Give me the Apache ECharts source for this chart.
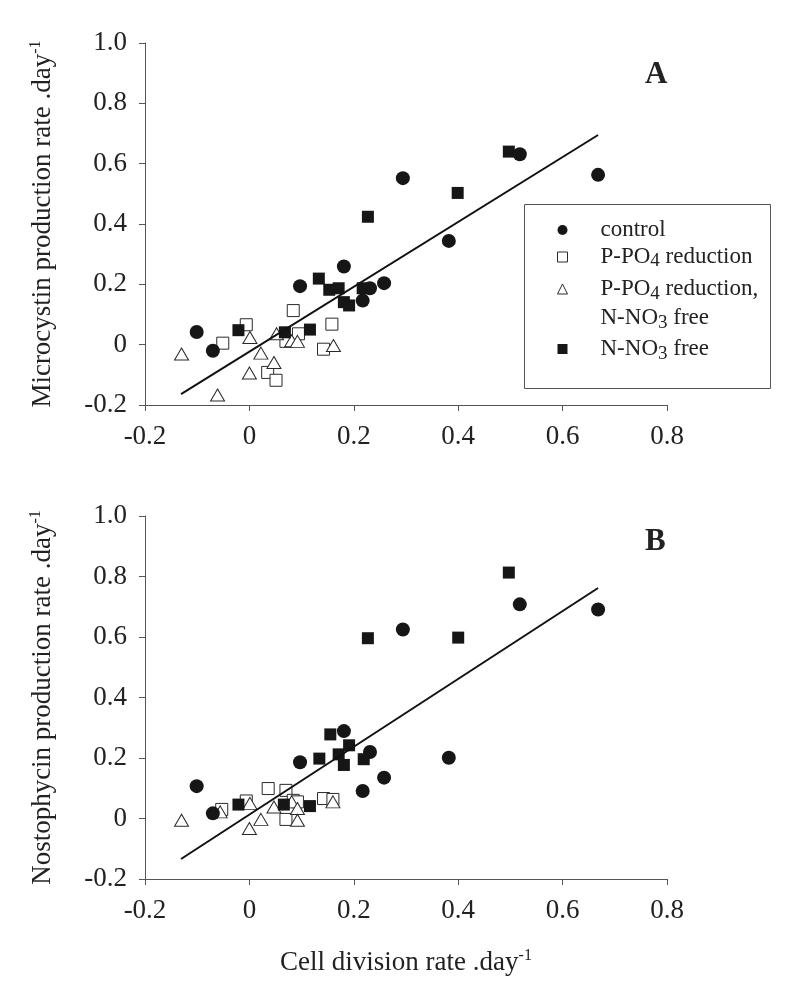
<!DOCTYPE html>
<html>
<head>
<meta charset="utf-8">
<script src="https://cdn.jsdelivr.net/npm/echarts@6/dist/echarts.min.js"></script>
<style>html,body{margin:0;padding:0;background:#fff}#c{width:800px;height:995px}</style>
</head>
<body>
<div id="c"></div>
<script>
// ---------- data ----------
const seriesNames = ['control', 'P-PO4 reduction', 'P-PO4 reduction, N-NO3 free', 'N-NO3 free'];
const xTickLabels = ['-0.2', '0', '0.2', '0.4', '0.6', '0.8'];
const yTickLabels = ['-0.2', '0', '0.2', '0.4', '0.6', '0.8', '1.0'];

// Panel A: microcystin production rate vs cell division rate
const controlA = [[-0.101,0.042],[-0.070,-0.020],[0.097,0.194],[0.181,0.259],[0.217,0.146],[0.231,0.187],[0.258,0.204],[0.294,0.552],[0.382,0.344],[0.518,0.631],[0.668,0.563]];
const pRedA = [[-0.051,0.005],[-0.006,0.066],[0.035,-0.092],[0.051,-0.118],[0.070,0.011],[0.084,0.113],[0.094,0.036],[0.142,-0.015],[0.158,0.068]];
const pRedNFreeA = [[-0.130,-0.031],[-0.061,-0.167],[0.000,-0.094],[0.001,0.024],[0.022,-0.028],[0.047,-0.059],[0.052,0.036],[0.081,0.013],[0.092,0.011],[0.161,-0.003]];
const nFreeA = [[-0.021,0.048],[0.068,0.041],[0.116,0.050],[0.133,0.219],[0.153,0.182],[0.171,0.187],[0.181,0.141],[0.191,0.130],[0.217,0.187],[0.227,0.424],[0.399,0.503],[0.497,0.640]];
const fitA = [[-0.131,-0.164],[0.668,0.695]];

// Panel B: nostophycin production rate vs cell division rate
const controlB = [[-0.101,0.107],[-0.070,0.017],[0.097,0.186],[0.181,0.289],[0.217,0.091],[0.231,0.220],[0.258,0.135],[0.294,0.625],[0.382,0.201],[0.518,0.708],[0.668,0.691]];
const pRedB = [[-0.053,0.030],[-0.006,0.058],[0.036,0.099],[0.070,0.093],[0.070,-0.003],[0.084,0.060],[0.092,0.055],[0.142,0.066],[0.160,0.063]];
const pRedNFreeB = [[-0.130,-0.006],[-0.056,0.022],[0.000,-0.033],[0.001,0.050],[0.022,-0.003],[0.047,0.038],[0.081,0.055],[0.092,0.033],[0.092,-0.006],[0.160,0.055]];
const nFreeB = [[-0.021,0.046],[0.066,0.046],[0.116,0.041],[0.134,0.198],[0.155,0.278],[0.171,0.212],[0.181,0.177],[0.191,0.242],[0.219,0.196],[0.227,0.596],[0.400,0.598],[0.497,0.813]];
const fitB = [[-0.131,-0.134],[0.668,0.762]];

// ---------- styling ----------
const FONT = '"Liberation Serif", "Times New Roman", serif';
const INK = '#222';
const AXIS = '#555';

function tickFmt(labels, min) {
  return function (v) {
    const i = Math.round((v - min) / 0.2);
    return labels[i] !== undefined ? labels[i] : '';
  };
}

const supRich = {
  sup: { fontFamily: FONT, fontSize: 16, lineHeight: 16, verticalAlign: 'top', color: INK }
};

function xAxis(gridIndex, name) {
  return {
    type: 'value', gridIndex: gridIndex, min: -0.2, max: 0.8, interval: 0.2,
    axisLine: { onZero: false, lineStyle: { color: AXIS, width: 1 } },
    axisTick: { show: true, inside: false, length: 6, lineStyle: { color: AXIS } },
    axisLabel: { margin: 18, color: INK, fontFamily: FONT, fontSize: 27, formatter: tickFmt(xTickLabels, -0.2) },
    splitLine: { show: false },
    name: name, nameLocation: 'middle', nameGap: 69,
    nameTextStyle: { fontFamily: FONT, fontSize: 27, lineHeight: 30, color: INK, rich: supRich }
  };
}
function yAxis(gridIndex, name) {
  return {
    type: 'value', gridIndex: gridIndex, min: -0.2, max: 1.0, interval: 0.2,
    axisLine: { onZero: false, lineStyle: { color: AXIS, width: 1 } },
    axisTick: { show: true, inside: false, length: 6, lineStyle: { color: AXIS } },
    axisLabel: { margin: 18, color: INK, fontFamily: FONT, fontSize: 27, formatter: tickFmt(yTickLabels, -0.2) },
    splitLine: { show: false },
    name: name, nameLocation: 'middle', nameGap: 87, nameRotate: 90,
    nameTextStyle: { fontFamily: FONT, fontSize: 27, lineHeight: 30, color: INK, rich: supRich }
  };
}

const styles = [
  { symbol: 'circle', symbolSize: 14, itemStyle: { color: '#161616', opacity: 1 } },
  { symbol: 'rect', symbolSize: 12, itemStyle: { color: '#fff', borderColor: '#2a2a2a', borderWidth: 1, opacity: 1 } },
  { symbol: 'triangle', symbolSize: [14, 12], itemStyle: { color: '#fff', borderColor: '#2a2a2a', borderWidth: 1, opacity: 1 } },
  { symbol: 'rect', symbolSize: 12, itemStyle: { color: '#161616', opacity: 1 } }
];

function scatter(nameIdx, data, axisIdx, z) {
  const s = styles[nameIdx];
  return {
    type: 'scatter', name: seriesNames[nameIdx], data: data,
    xAxisIndex: axisIdx, yAxisIndex: axisIdx,
    symbol: s.symbol, symbolSize: s.symbolSize, itemStyle: s.itemStyle,
    emphasis: { disabled: true }, z: z
  };
}
function fitLine(data, axisIdx) {
  return {
    type: 'line', name: 'fit', data: data, xAxisIndex: axisIdx, yAxisIndex: axisIdx,
    showSymbol: false, symbol: 'none', silent: true,
    lineStyle: { color: '#111', width: 2 }, z: 6, emphasis: { disabled: true }
  };
}

const legendText = {
  'control': 'control',
  'P-PO4 reduction': 'P-PO{sub|4} reduction',
  'P-PO4 reduction, N-NO3 free': 'P-PO{sub|4} reduction,\nN-NO{sub|3} free',
  'N-NO3 free': 'N-NO{sub|3} free'
};
const subRich = { sub: { fontFamily: FONT, fontSize: 19, lineHeight: 14, verticalAlign: 'bottom', color: INK } };
function legendCfg(top, lineH, gap, data) {
  return {
    orient: 'vertical', left: 557, top: top, padding: 0, itemGap: gap,
    itemWidth: 10, itemHeight: 10, selectedMode: false,
    itemStyle: { borderWidth: 1 },
    formatter: function (n) { return legendText[n]; },
    textStyle: { fontFamily: FONT, fontSize: 23, lineHeight: lineH, color: INK, padding: [0, 0, 0, 28], rich: subRich },
    data: data
  };
}

const chart = echarts.init(document.getElementById('c'), null, { renderer: 'canvas' });
chart.setOption({
  animation: false,
  backgroundColor: '#fff',
  grid: [
    { left: 145, top: 43, width: 522, height: 362 },
    { left: 145, top: 516, width: 522, height: 363 }
  ],
  xAxis: [xAxis(0, ''), xAxis(1, 'Cell division rate .day{sup|-1}')],
  yAxis: [yAxis(0, 'Microcystin production rate .day{sup|-1}'), yAxis(1, 'Nostophycin production rate .day{sup|-1}')],
  title: [
    { text: 'A', left: 645, top: 59, padding: 0, textStyle: { fontFamily: FONT, fontSize: 31, fontWeight: 'bold', color: INK } },
    { text: 'B', left: 645, top: 526, padding: 0, textStyle: { fontFamily: FONT, fontSize: 31, fontWeight: 'bold', color: INK } }
  ],
  legend: [
    legendCfg(216.5, 27, 0, [seriesNames[0], seriesNames[1]]),
    legendCfg(245.5, 29, 2, [
      { name: seriesNames[2], textStyle: { padding: [29, 0, 0, 28] } },
      seriesNames[3]
    ])
  ],
  graphic: [
    { type: 'rect', shape: { x: 524.5, y: 204.5, width: 246, height: 184 }, style: { fill: 'none', stroke: '#555', lineWidth: 1 }, z: 100, silent: true }
  ],
  series: [
    scatter(1, pRedA, 0, 2), scatter(2, pRedNFreeA, 0, 2), scatter(3, nFreeA, 0, 3), scatter(0, controlA, 0, 3), fitLine(fitA, 0),
    scatter(1, pRedB, 1, 2), scatter(2, pRedNFreeB, 1, 2), scatter(3, nFreeB, 1, 3), scatter(0, controlB, 1, 3), fitLine(fitB, 1)
  ]
});
</script>
</body>
</html>
